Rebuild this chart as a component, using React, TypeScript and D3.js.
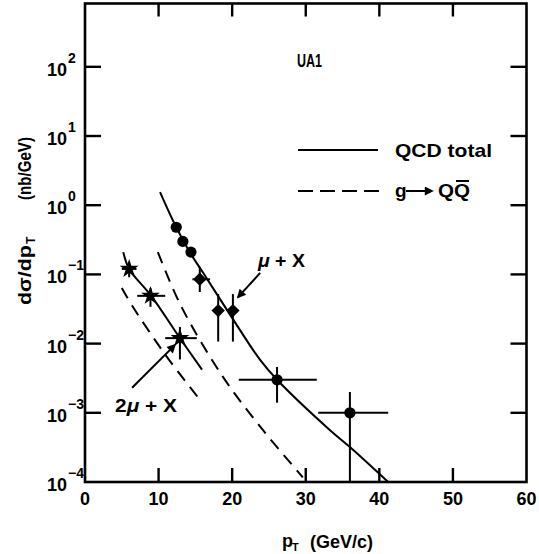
import React from 'react';
import * as d3 from 'd3';

const W = 539;
const H = 554;

// axes
const xTickValues = [0, 10, 20, 30, 40, 50, 60];
const xInnerTicks = [10, 20, 30, 40, 50];
const yExponents = [-4, -3, -2, -1, 0, 1, 2];
const yInnerExponents = [-3, -2, -1, 0, 1, 2];

// mu + X data points
const muPt = [12.4, 13.3, 14.4, 15.6, 18.1, 20.1, 26.1, 36.0];
const muSigma = [0.48, 0.30, 0.21, 0.085, 0.030, 0.030, 0.0030, 0.0010];
const muPtLo = [12.4, 13.3, 14.4, 14.6, 18.1, 20.1, 20.9, 31.7];
const muPtHi = [12.4, 13.3, 14.4, 17.0, 18.1, 20.1, 31.5, 41.2];
const muSigLo = [0.48, 0.30, 0.21, 0.0557, 0.0107, 0.0107, 0.0014, 0.0001];
const muSigHi = [0.48, 0.30, 0.21, 0.128, 0.052, 0.052, 0.0046, 0.0020];
const muShape = ['circle', 'circle', 'circle', 'diamond', 'diamond', 'diamond', 'circle', 'circle'];

// 2mu + X data points
const dimuPt = [6.0, 8.9, 12.9];
const dimuSigma = [0.12, 0.049, 0.012];
const dimuPtLo = [5.0, 7.1, 10.9];
const dimuPtHi = [7.0, 10.9, 15.2];
const dimuSigLo = [0.091, 0.034, 0.0059];
const dimuSigHi = [0.146, 0.0635, 0.0174];

// QCD total curves
const qcdMuPt = [10.2, 12.4, 14.3, 15.9, 20.1, 23.8, 26.1, 33.3, 36.0, 41.2];
const qcdMuSig = [1.55, 0.48, 0.204, 0.112, 0.0226, 0.0058, 0.0030, 0.00056, 0.00032, 0.0001];
const qcdDimuPt = [5.2, 6.0, 9.0, 12.9, 15.9];
const qcdDimuSig = [0.21, 0.12, 0.049, 0.012, 0.0042];

// g -> QQbar curves
const gqqMuPt = [9.9, 13.05, 18.75, 24.2, 29.6];
const gqqMuSig = [0.21, 0.035, 0.0033, 0.00056, 0.000117];
const gqqDimuPt = [5.0, 6.5, 11.1, 15.6];
const gqqDimuSig = [0.0635, 0.034, 0.0065, 0.00155];

// annotation arrows (data coordinates: [x0, y0, x1, y1])
const muArrow = [23.8, 0.105, 20.8, 0.047];
const dimuArrow = [6.4, 0.0023, 12.2, 0.0095];

const FONT = 'Liberation Sans, Arial, sans-serif';

export default function App() {
  const left = 85, right = 526.5, top = 3.5, bottom = 482;
  const x = d3.scaleLinear().domain([0, 60]).range([left, right]);
  const y = d3.scaleLog().domain([1e-4, Math.pow(10, 2.915)]).range([bottom, top]);

  const line = d3
    .line<[number, number]>()
    .x((d) => x(d[0]))
    .y((d) => y(d[1]))
    .curve(d3.curveCatmullRom.alpha(0.5));

  const zip = (a: number[], b: number[]) => a.map((v, i) => [v, b[i]] as [number, number]);

  const star = d3.symbol().type(d3.symbolStar).size(110)();
  const sq = d3.symbol().type(d3.symbolSquare).size(90)();

  const arrow = (a: number[], key: string) => (
    <line
      key={key}
      x1={x(a[0])}
      y1={y(a[1])}
      x2={x(a[2])}
      y2={y(a[3])}
      stroke="#000"
      strokeWidth={2}
      markerEnd="url(#ah)"
    />
  );

  return (
    <svg
      width={W}
      height={H}
      style={{ position: 'absolute', left: 0, top: 0, background: '#fff' }}
      fontFamily={FONT}
    >
      <defs>
        <marker id="ah" viewBox="0 0 10 10" refX="8" refY="5" markerWidth="10" markerHeight="9" markerUnits="userSpaceOnUse" orient="auto">
          <path d="M0,0 L10,5 L0,10 z" fill="#000" />
        </marker>
        <clipPath id="plot">
          <rect x={left} y={top} width={right - left} height={bottom - top} />
        </clipPath>
      </defs>
      <rect x={0} y={0} width={W} height={H} fill="#fff" />

      {/* frame */}
      <rect x={left} y={top} width={right - left} height={bottom - top} fill="none" stroke="#000" strokeWidth={2.6} />

      {/* x ticks */}
      {xInnerTicks.map((v) => (
        <g key={'xt' + v}>
          <line x1={x(v)} x2={x(v)} y1={bottom} y2={bottom - 14} stroke="#000" strokeWidth={2.4} />
          <line x1={x(v)} x2={x(v)} y1={top} y2={top + 13} stroke="#000" strokeWidth={2.4} />
        </g>
      ))}
      {xTickValues.map((v) => (
        <text key={'xl' + v} x={x(v)} y={505} textAnchor="middle" fontSize={18} fontWeight="bold">
          {v}
        </text>
      ))}

      {/* y ticks */}
      {yInnerExponents.map((e) => (
        <g key={'yt' + e}>
          <line x1={left} x2={left + 16} y1={y(Math.pow(10, e))} y2={y(Math.pow(10, e))} stroke="#000" strokeWidth={2.4} />
          <line x1={right} x2={right - 16} y1={y(Math.pow(10, e))} y2={y(Math.pow(10, e))} stroke="#000" strokeWidth={2.4} />
        </g>
      ))}
      {yExponents.map((e) => {
        const yy = y(Math.pow(10, e));
        return (
          <g key={'yl' + e}>
            <text x={47} y={yy + 9} fontSize={18} fontWeight="bold">10</text>
            <text x={68} y={yy - 4} fontSize={14} fontWeight="bold">
              {e < 0 ? '\u2212' + Math.abs(e) : String(e)}
            </text>
          </g>
        );
      })}

      {/* axis titles */}
      <g transform="translate(31,305) rotate(-90)" fontWeight="bold">
        <text x={0} y={0} fontSize={19} textLength={60} lengthAdjust="spacingAndGlyphs">dσ/dp</text>
        <text x={61} y={4} fontSize={12}>T</text>
        <text x={105} y={0} fontSize={19} textLength={63} lengthAdjust="spacingAndGlyphs">(nb/GeV)</text>
      </g>
      <g fontWeight="bold">
        <text x={282} y={547} fontSize={18}>p</text>
        <text x={292} y={551} fontSize={11}>T</text>
        <text x={310} y={548} fontSize={18} textLength={63} lengthAdjust="spacingAndGlyphs">(GeV/c)</text>
      </g>

      {/* curves */}
      <g clipPath="url(#plot)" fill="none" stroke="#000" strokeWidth={2}>
        <path d={line(zip(qcdMuPt, qcdMuSig)) || ''} />
        <path d={line(zip(qcdDimuPt, qcdDimuSig)) || ''} />
        <path d={line(zip(gqqMuPt, gqqMuSig)) || ''} strokeDasharray="12 8" />
        <path d={line(zip(gqqDimuPt, gqqDimuSig)) || ''} strokeDasharray="12 8" />
      </g>

      {/* mu + X points */}
      <g clipPath="url(#plot)">
        {muPt.map((p, i) => (
          <g key={'mu' + i}>
            {muPtLo[i] !== muPtHi[i] && (
              <line x1={x(muPtLo[i])} x2={x(muPtHi[i])} y1={y(muSigma[i])} y2={y(muSigma[i])} stroke="#000" strokeWidth={2} />
            )}
            {muSigLo[i] !== muSigHi[i] && (
              <line x1={x(p)} x2={x(p)} y1={y(muSigLo[i])} y2={y(muSigHi[i])} stroke="#000" strokeWidth={2} />
            )}
            {muShape[i] === 'circle' ? (
              <circle cx={x(p)} cy={y(muSigma[i])} r={5.6} fill="#000" />
            ) : (
              <path d={sq || ''} transform={`translate(${x(p)},${y(muSigma[i])}) rotate(45)`} fill="#000" />
            )}
          </g>
        ))}
      </g>

      {/* 2mu + X points */}
      <g clipPath="url(#plot)">
        {dimuPt.map((p, i) => (
          <g key={'dimu' + i}>
            <line x1={x(dimuPtLo[i])} x2={x(dimuPtHi[i])} y1={y(dimuSigma[i])} y2={y(dimuSigma[i])} stroke="#000" strokeWidth={2} />
            <line x1={x(p)} x2={x(p)} y1={y(dimuSigLo[i])} y2={y(dimuSigHi[i])} stroke="#000" strokeWidth={2} />
            <path d={star || ''} transform={`translate(${x(p)},${y(dimuSigma[i])})`} fill="#000" />
          </g>
        ))}
      </g>

      {/* annotations */}
      <text x={297} y={67} fontSize={18} fontWeight="bold" textLength={25} lengthAdjust="spacingAndGlyphs">UA1</text>

      <line x1={298} x2={378} y1={150} y2={150} stroke="#000" strokeWidth={2} />
      <text x={395} y={157} fontSize={19} fontWeight="bold" textLength={97} lengthAdjust="spacingAndGlyphs">QCD total</text>

      <line x1={298} x2={381} y1={191} y2={191} stroke="#000" strokeWidth={2} strokeDasharray="15 7" />
      <text x={395} y={197} fontSize={19} fontWeight="bold">g</text>
      <line x1={406} x2={432} y1={191} y2={191} stroke="#000" strokeWidth={2} markerEnd="url(#ah)" />
      <text x={438} y={197} fontSize={19} fontWeight="bold" textLength={32} lengthAdjust="spacingAndGlyphs">QQ</text>
      <line x1={456} x2={469} y1={181} y2={181} stroke="#000" strokeWidth={2} />

      <text x={x(23.5)} y={y(0.128)} fontSize={18} fontWeight="bold" textLength={47} lengthAdjust="spacingAndGlyphs">
        <tspan fontStyle="italic">μ</tspan> + X
      </text>
      {arrow(muArrow, 'a1')}

      <text x={x(4.08)} y={y(0.00102)} fontSize={19} fontWeight="bold" textLength={62} lengthAdjust="spacingAndGlyphs">
        2<tspan fontStyle="italic">μ</tspan> + X
      </text>
      {arrow(dimuArrow, 'a2')}
    </svg>
  );
}
